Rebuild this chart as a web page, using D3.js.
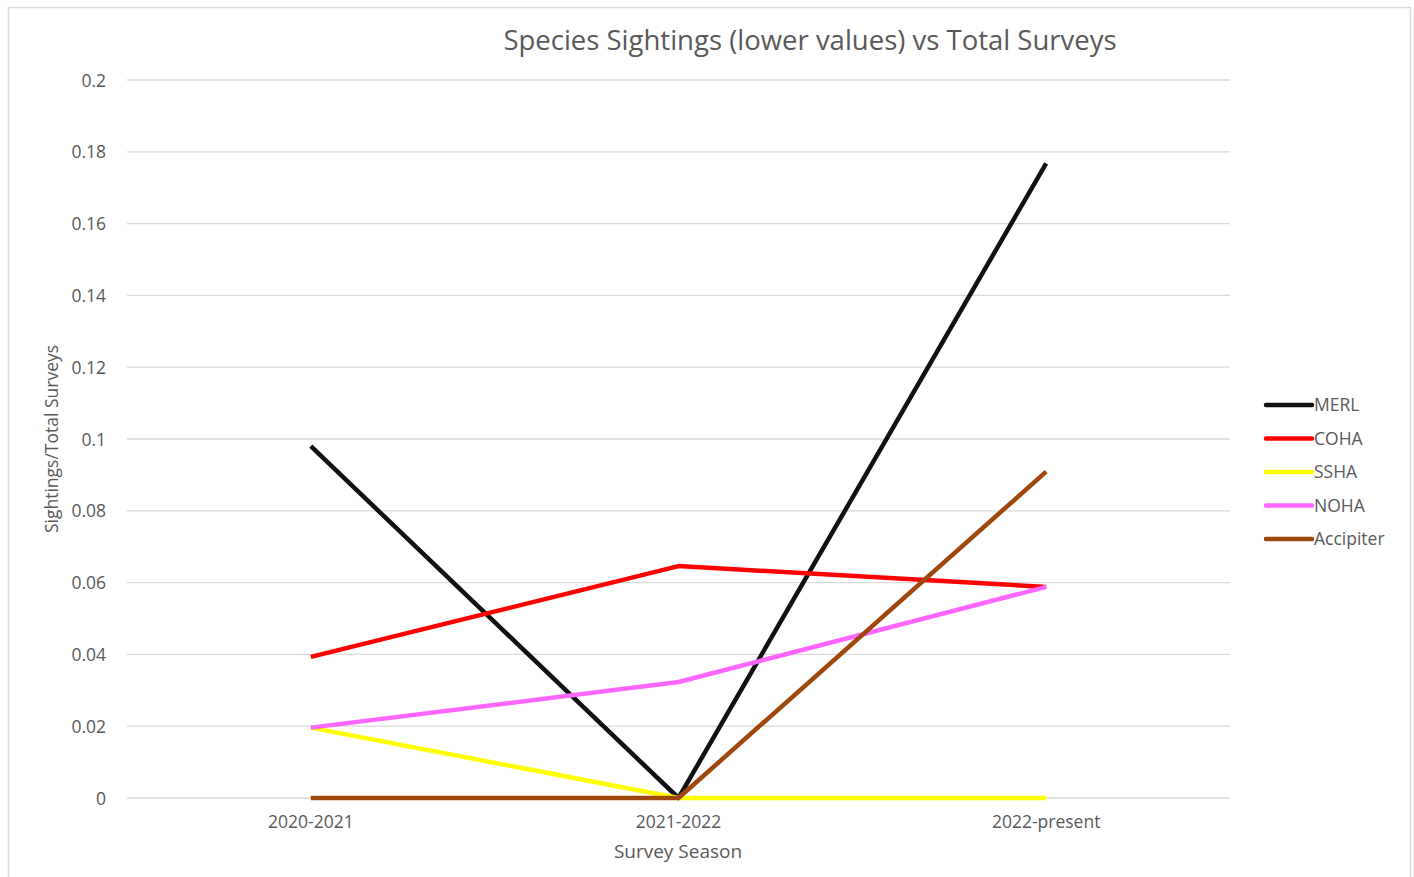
<!DOCTYPE html>
<html>
<head>
<meta charset="utf-8">
<script src="https://cdnjs.cloudflare.com/ajax/libs/d3/7.8.5/d3.min.js"></script>
<style>
  body { margin: 0; background: #fff; }
  text { font-family: "Open Sans", "Noto Sans", sans-serif; fill: #595959; }
</style>
</head>
<body>
<div class="container"></div>
<script>
var w = 1414;
var h = 877;

// chart data
var seasons = ["2020-2021", "2021-2022", "2022-present"];
var yTicks = [0, 0.02, 0.04, 0.06, 0.08, 0.1, 0.12, 0.14, 0.16, 0.18, 0.2];
var merl = [0.098, 0, 0.1768];
var coha = [0.0393, 0.0646, 0.0588];
var ssha = [0.0196, 0, 0];
var noha = [0.0196, 0.0323, 0.0588];
var accipiter = [0, 0, 0.0909];
var seriesNames = ["MERL", "COHA", "SSHA", "NOHA", "Accipiter"];
var seriesColors = ["#111111", "#ff0000", "#ffff00", "#ff66ff", "#9e480e"];

var series = [merl, coha, ssha, noha, accipiter].map(function(v, i) {
    return { name: seriesNames[i], color: seriesColors[i], values: v };
});

var margin = { left: 127, right: 1230, top: 80, bottom: 798 };

var x = d3.scaleBand()
    .domain(seasons)
    .range([margin.left, margin.right]);

var y = d3.scaleLinear()
    .domain([0, 0.2])
    .range([margin.bottom, margin.top]);

var svg = d3.select(".container")
    .append("svg")
    .attr("width", w)
    .attr("height", h);

// chart border
svg.append("rect")
    .attr("x", 8.5)
    .attr("y", 7.5)
    .attr("width", 1402)
    .attr("height", 880)
    .attr("fill", "#fff")
    .attr("stroke", "#d9d9d9")
    .attr("stroke-width", 1.5);

// gridlines
svg.selectAll(".grid")
    .data(yTicks)
    .enter()
    .append("line")
    .attr("class", "grid")
    .attr("x1", margin.left)
    .attr("x2", margin.right)
    .attr("y1", function(d) { return y(d); })
    .attr("y2", function(d) { return y(d); })
    .attr("stroke", "#d9d9d9")
    .attr("stroke-width", 1.3);

// y axis
var yAxis = svg.append("g")
    .attr("transform", "translate(" + (margin.left - 18) + ",0)")
    .call(d3.axisLeft(y).tickValues(yTicks).tickSize(0).tickFormat(function(d) { return String(+d.toFixed(2)); }));
yAxis.select(".domain").remove();
yAxis.selectAll("text")
    .attr("font-size", 17.5)
    .attr("font-family", null)
    .attr("fill", "#595959")
    .attr("dy", "0.35em");

// x axis
var xAxis = svg.append("g")
    .attr("transform", "translate(0," + (margin.bottom + 15) + ")")
    .call(d3.axisBottom(x).tickSize(0));
xAxis.select(".domain").remove();
xAxis.selectAll("text")
    .attr("font-size", 17.5)
    .attr("font-family", null)
    .attr("fill", "#595959");

// lines
var line = d3.line()
    .x(function(d, i) { return x(seasons[i]) + x.bandwidth() / 2; })
    .y(function(d) { return y(d); });

svg.selectAll(".series")
    .data(series)
    .enter()
    .append("path")
    .attr("class", "series")
    .attr("fill", "none")
    .attr("stroke", function(d) { return d.color; })
    .attr("stroke-width", 4.5)
    .attr("stroke-linejoin", "round")
    .attr("d", function(d) { return line(d.values); });

// title
svg.append("text")
    .attr("x", 810)
    .attr("y", 50)
    .attr("text-anchor", "middle")
    .attr("font-size", 27.5)
    .text("Species Sightings (lower values) vs Total Surveys");

// axis titles
svg.append("text")
    .attr("x", 678)
    .attr("y", 858)
    .attr("text-anchor", "middle")
    .attr("font-size", 19)
    .text("Survey Season");

svg.append("text")
    .attr("transform", "translate(58,439) rotate(-90)")
    .attr("text-anchor", "middle")
    .attr("font-size", 17.5)
    .text("Sightings/Total Surveys");

// legend
var legend = svg.append("g")
    .attr("class", "key")
    .attr("transform", "translate(1266,405)");

var rows = legend.selectAll("g")
    .data(series)
    .enter()
    .append("g")
    .attr("transform", function(d, i) { return "translate(0," + (i * 33.5) + ")"; });

rows.append("line")
    .attr("x1", 0)
    .attr("x2", 46)
    .attr("stroke", function(d) { return d.color; })
    .attr("stroke-width", 4.5)
    .attr("stroke-linecap", "round");

rows.append("text")
    .attr("x", 48)
    .attr("dy", "0.35em")
    .attr("font-size", 17.5)
    .text(function(d) { return d.name; });
</script>
</body>
</html>
